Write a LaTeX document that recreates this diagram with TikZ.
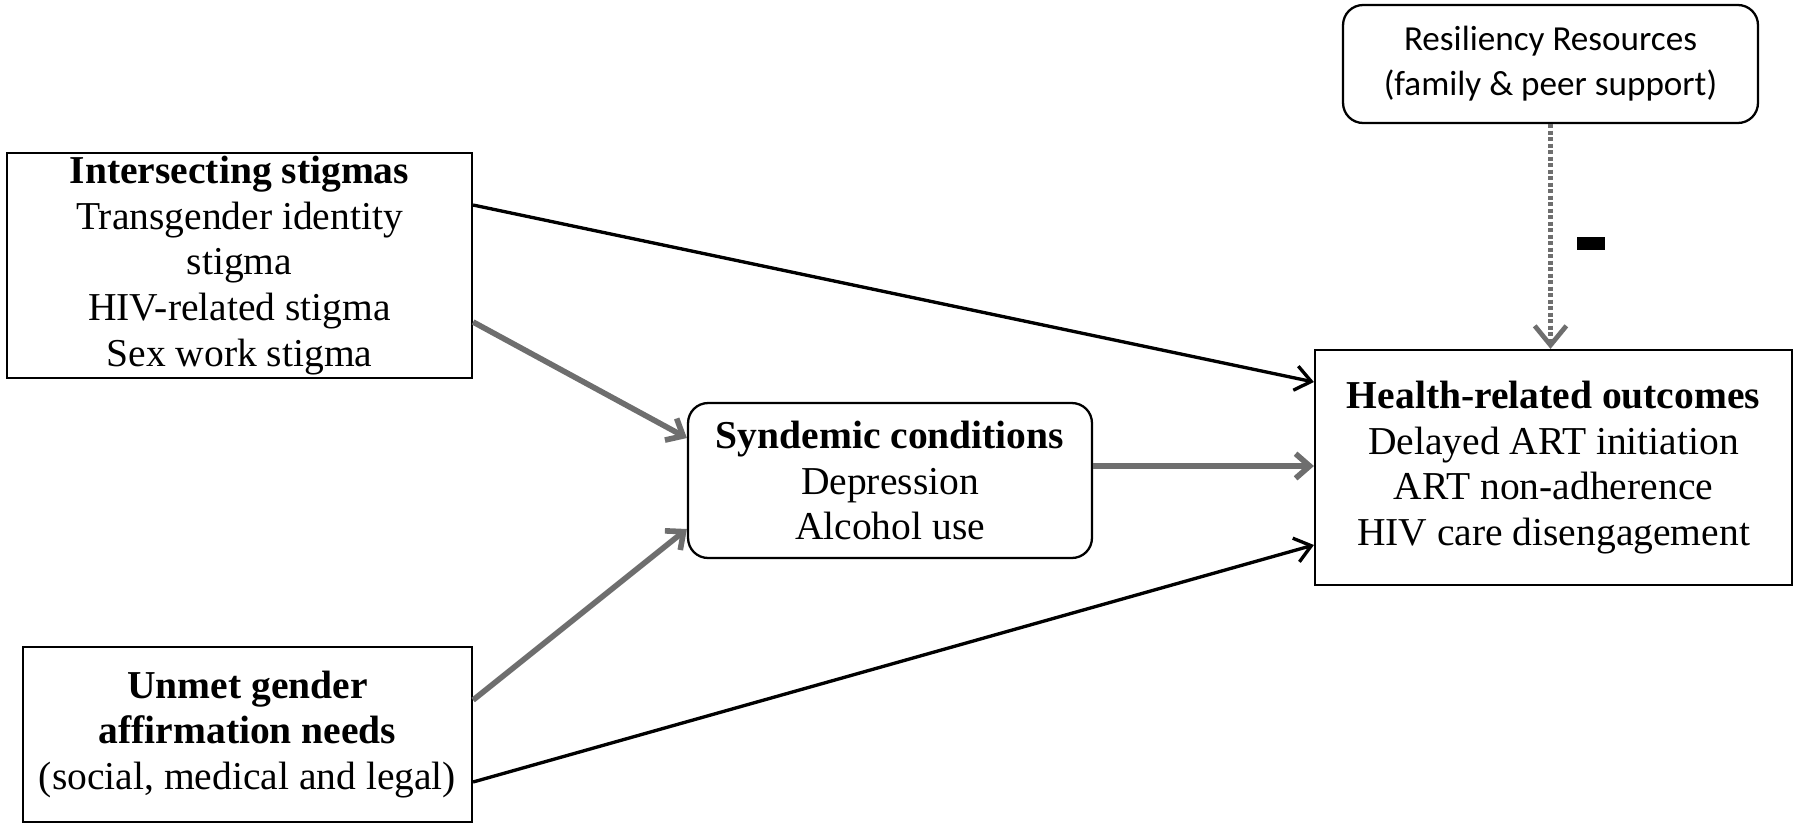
\documentclass[tikz,border=0pt]{standalone}
\usepackage{fontspec}
\setmainfont{Liberation Serif}
\newfontfamily\resfont{Carlito}
\usetikzlibrary{arrows.meta}

\definecolor{arrowgray}{RGB}{110,110,110}

\begin{document}
\begin{tikzpicture}[x=0.02cm,y=-0.02cm,
  box/.style={draw,line width=1.3pt,align=center,inner sep=0pt,font=\fontsize{22.5}{26}\selectfont},
  rbox/.style={box,rounded corners=0.4cm},
  blackarrow/.style={line width=1.9pt,-{Straight Barb[length=9pt,width=14pt]}},
  grayarrow/.style={draw=arrowgray,line width=3.2pt,-{Straight Barb[length=8pt,width=14pt]}},
  dotarrow/.style={draw=arrowgray,line width=2.7pt,dash pattern=on 2.2pt off 1.5pt,-{Straight Barb[length=11pt,width=18pt,line width=2.7pt]}}]

\useasboundingbox (0,0) rectangle (1797,829);

\node [box,minimum width=9.3cm,minimum height=4.5cm] (stig) at (239.5,265.5)
  {\textbf{Intersecting stigmas}\\Transgender identity\\stigma\\HIV-related stigma\\Sex work stigma};
\node [box,minimum width=8.98cm,minimum height=3.5cm] (unmet) at (247.5,734.5)
  {\textbf{Unmet gender}\\\textbf{affirmation needs}\\(social, medical and legal)};
\node [rbox,minimum width=8.08cm,minimum height=3.1cm] (synd) at (890,480.5)
  {\textbf{Syndemic conditions}\\Depression\\Alcohol use};
\node [box,minimum width=9.54cm,minimum height=4.7cm] (health) at (1553.5,467.5)
  {\textbf{Health-related outcomes}\\Delayed ART initiation\\ART non-adherence\\HIV care disengagement};
\node [rbox,minimum width=8.3cm,minimum height=2.36cm,font=\resfont\fontsize{20}{25.5}\selectfont] (res) at (1550.5,64)
  {Resiliency Resources\\(family \& peer support)};

\node [fill=black,inner sep=0pt,minimum width=0.56cm,minimum height=0.26cm] (minus) at (1591,243) {};

\draw [blackarrow] ([yshift=1.21cm]stig.east) -- ([yshift=1.71cm]health.west);
\draw [grayarrow] ([yshift=-1.13cm]stig.east) -- ([yshift=0.85cm]synd.west);
\draw [grayarrow] ([yshift=0.69cm]unmet.east) -- ([yshift=-0.97cm]synd.west);
\draw [blackarrow] ([yshift=-0.95cm]unmet.east) -- ([yshift=-1.55cm]health.west);
\draw [grayarrow] ([yshift=0.29cm]synd.east) -- ([yshift=0.03cm]health.west);
\draw [dotarrow] (res.south) -- (res.south |- health.north);

\end{tikzpicture}
\end{document}
